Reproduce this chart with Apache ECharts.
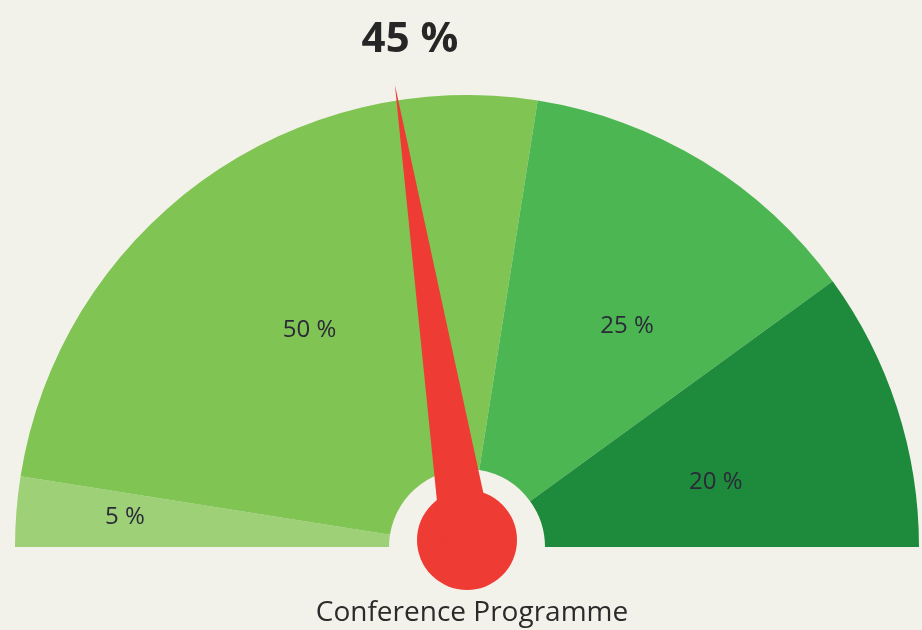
<!DOCTYPE html>
<html>
<head>
    <meta charset="utf-8">
    <title>Conference Programme</title>
    <script src="https://cdn.jsdelivr.net/npm/echarts@6/dist/echarts.min.js"></script>
    <style>
        html, body {margin:0;padding:0;background:#f3f2ea}
        #chart {width:922px;height:630px}
    </style>
</head>
<body>
<div id="chart"></div>
<script>
    // shares shown in the half-pie, left to right
    var categories = ['5 %', '50 %', '25 %', '20 %'];
    var shares = [5, 50, 25, 20];
    var segmentColors = ['#9dd077', '#80c453', '#4cb653', '#1e8a3b'];
    // needle value
    var needleValue = 45;
    var chartTitle = 'Conference Programme';

    // small nudges so the labels sit where they do in the picture
    var labelNudge = [[-75, -9], [0, 0], [20, 8], [-6, 18]];

    var chart = echarts.init(document.getElementById('chart'));

    var pieData = shares.map(function (v, i) {
        return {
            name: categories[i],
            value: v,
            itemStyle: {color: segmentColors[i]},
            label: {offset: labelNudge[i]}
        };
    });

    var option = {
        backgroundColor: '#f3f2ea',
        animation: false,
        title: [
            {
                text: needleValue + ' %',
                left: 405, top: 14, textAlign: 'center',
                textStyle: {fontFamily: 'Open Sans', fontSize: 42, fontWeight: 'bold', color: '#262626'}
            },
            {
                text: chartTitle,
                left: 467, top: 594, textAlign: 'center',
                textStyle: {fontFamily: 'Open Sans', fontSize: 28, fontWeight: 'normal', color: '#2b2b2b'}
            }
        ],
        series: [
            {
                type: 'pie',
                z: 1,
                center: [467, 547],
                radius: [78, 452],
                startAngle: 180,
                endAngle: 0,
                clockwise: true,
                silent: true,
                label: {
                    show: true,
                    position: 'inside',
                    formatter: '{c} %',
                    fontFamily: 'Open Sans',
                    fontSize: 24,
                    color: '#2a2a38'
                },
                labelLine: {show: false},
                data: pieData
            },
            {
                type: 'gauge',
                z: 5,
                center: [467, 540],
                radius: 452,
                startAngle: 180,
                endAngle: 0,
                min: 0,
                max: 100,
                axisLine: {show: false},
                axisTick: {show: false},
                splitLine: {show: false},
                axisLabel: {show: false},
                detail: {show: false},
                title: {show: false},
                pointer: {
                    icon: 'path://M5,0 L10,100 L0,100 Z',
                    length: '102%',
                    width: 52,
                    offsetCenter: [0, 0],
                    itemStyle: {color: '#ee3b34'}
                },
                anchor: {
                    show: true,
                    size: 100,
                    itemStyle: {color: '#ee3b34'}
                },
                data: [{value: needleValue}]
            }
        ]
    };
    chart.setOption(option);
</script>
</body>
</html>
